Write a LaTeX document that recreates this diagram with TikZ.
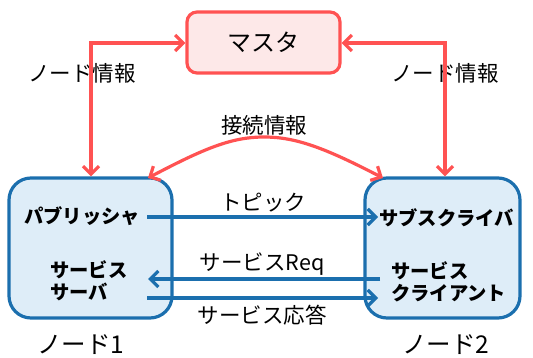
\documentclass[tikz,border=0pt]{standalone}
\usepackage{fontspec}
\setmainfont{Noto Sans CJK JP}
\usetikzlibrary{arrows.meta}
\definecolor{rl}{HTML}{FF5252}
\definecolor{rf}{HTML}{FDE8E8}
\definecolor{bl}{HTML}{1B6FAE}
\definecolor{bf}{HTML}{DEEDF8}
\tikzset{
  redbox/.style={draw=rl,fill=rf,line width=3.2pt,rounded corners=10pt},
  bluebox/.style={draw=bl,fill=bf,line width=3.2pt,rounded corners=22pt},
  redarr/.style={draw=rl,line width=3.2pt,{Straight Barb[length=8pt,width=16pt]}-{Straight Barb[length=8pt,width=16pt]}},
  bluearr/.style={draw=bl,line width=3.2pt,-{Straight Barb[length=8pt,width=16pt]}},
  lbl/.style={inner sep=0pt,font=\fontsize{21.5}{24}\selectfont},
  inner/.style={inner sep=0pt,align=left,font=\fontsize{19.3}{22.5}\selectfont\bfseries},
}
\begin{document}
\begin{tikzpicture}[x=1pt,y=-1pt]
\useasboundingbox (0,0) rectangle (533,358);
% boxes
\node[redbox,minimum width=153pt,minimum height=61pt] (master) at (263.5,42.5) {};
\node[inner sep=0pt,font=\fontsize{24}{26}\selectfont] (mastert) at (263,42) {マスタ};
\node[bluebox,minimum width=163pt,minimum height=140pt] (n1) at (90.5,248) {};
\node[bluebox,minimum width=155pt,minimum height=140pt] (n2) at (442.5,248) {};
% inner texts
\node[inner,anchor=west] (pub) at (24,216) {パブリッシャ};
\node[inner,anchor=west] (srv) at (50,281) {サービス\\サーバ};
\node[inner,anchor=west] (sub) at (379,218) {サブスクライバ};
\node[inner,anchor=west] (cli) at (391,282) {サービス\\クライアント};
% labels
\node[lbl] (l1) at (82,73) {ノード情報};
\node[lbl] (l2) at (445,73) {ノード情報};
\node[lbl] (l3) at (264,125) {接続情報};
\node[lbl] (l4) at (263,203) {トピック};
\node[lbl] (l5) at (262,264) {サービスReq};
\node[lbl] (l6) at (262,315) {サービス応答};
\node[inner sep=0pt,font=\fontsize{24.5}{26}\selectfont] (nn1) at (81,345) {ノード1};
\node[inner sep=0pt,font=\fontsize{24.5}{26}\selectfont] (nn2) at (446,345) {ノード2};
% red connectors
\coordinate (cl) at (91,43);
\coordinate (cr) at (445,43);
\draw[redarr] (master.west |- cl) -- (cl) -- (cl |- n1.north);
\draw[redarr] (master.east |- cr) -- (cr) -- (cr |- n2.north);
\coordinate (cs) at (148,178);
\coordinate (ce) at (383,178);
\draw[redarr] (cs) .. controls (205,148) and (232,137) .. (264,137) .. controls (296,137) and (325,148) .. (ce);
% blue connectors
\coordinate (p1) at (147,217);
\coordinate (p2) at (378,217);
\coordinate (q1) at (380,279);
\coordinate (q2) at (148,279);
\coordinate (r1) at (147,298);
\coordinate (r2) at (378,298);
\draw[bluearr] (p1) -- (p2);
\draw[bluearr] (q1) -- (q2);
\draw[bluearr] (r1) -- (r2);
\end{tikzpicture}
\end{document}
